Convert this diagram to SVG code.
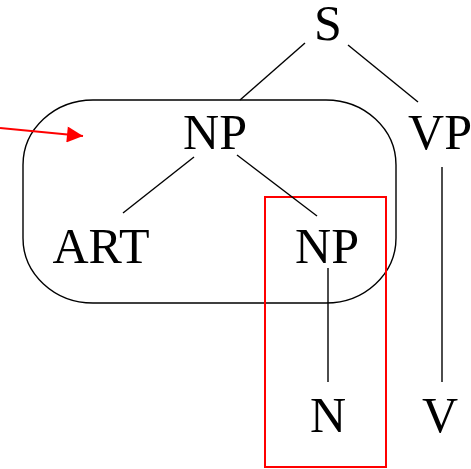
<svg xmlns="http://www.w3.org/2000/svg" width="471" height="469" viewBox="0 0 471 469">
<style>
text{font-family:"Liberation Serif","DejaVu Serif",serif;font-size:50px;fill:#000;text-anchor:middle}
.e{stroke:#000;stroke-width:1.4;fill:none}
</style>
<defs><marker id="ah" viewBox="0 0 10 10" refX="10" refY="5" markerWidth="18" markerHeight="16" markerUnits="userSpaceOnUse" orient="auto"><path d="M0,0L10,5L0,10z" fill="#f00"/></marker></defs>
<rect width="471" height="469" fill="#fff"/>
<g id="group-box"><rect x="23" y="100" width="373" height="203" rx="70" ry="65" fill="none" stroke="#000" stroke-width="1.4"/></g>
<g id="highlight"><rect x="265" y="197" width="121" height="270" fill="none" stroke="#f00" stroke-width="2"/></g>
<g id="connectors">
<line class="e" x1="305" y1="43" x2="240" y2="100"/>
<line class="e" x1="348" y1="45" x2="418" y2="102"/>
<line class="e" x1="194" y1="157" x2="123" y2="213"/>
<line class="e" x1="237" y1="155" x2="317" y2="216"/>
<line class="e" x1="328" y1="268" x2="328" y2="382"/>
<line class="e" x1="442" y1="167" x2="442" y2="382"/>
<line x1="0" y1="128" x2="83" y2="136" stroke="#f00" stroke-width="2" marker-end="url(#ah)"/>
</g>
<g id="S"><text x="328" y="40">S</text></g>
<g id="NP1"><text x="215" y="149">NP</text></g>
<g id="VP"><text x="440" y="149">VP</text></g>
<g id="ART"><text x="101" y="263">ART</text></g>
<g id="NP2"><text x="327" y="263">NP</text></g>
<g id="N"><text x="328" y="432">N</text></g>
<g id="V"><text x="440" y="432">V</text></g>
</svg>
